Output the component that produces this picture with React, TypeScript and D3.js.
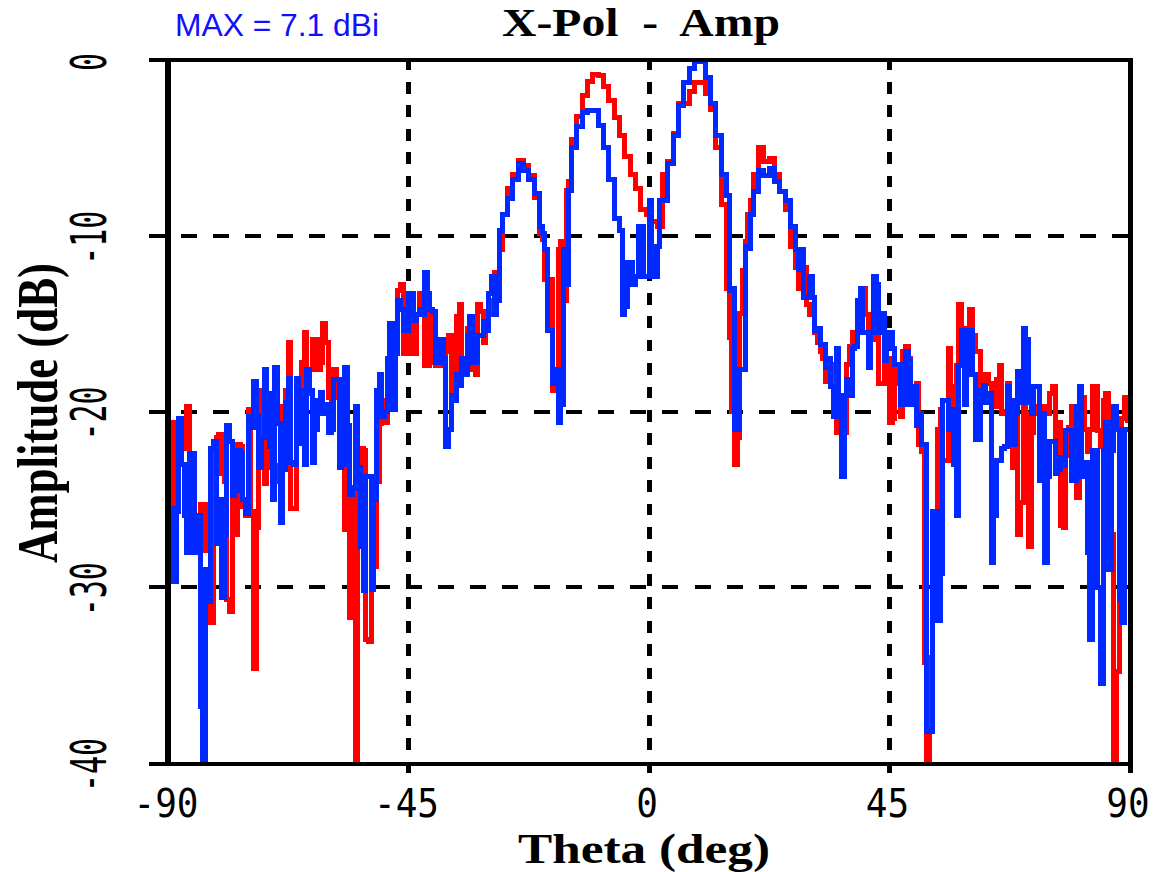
import React, { useEffect, useRef } from "react";
import * as d3 from "d3";

// cut sampled every degree, theta -90 .. 90
const THETA = d3.range(-90, 91, 1);

// each degree column is drawn from its upper to its lower reading (dB)
const RED_HI = [
  -20.6, -20.6, -20.6, -20.6, -19.7, -26, -25.3, -25.3, -25.3, -21.5,
  -21.3, -24, -24.7, -21.9, -22, -19.9, -25.7, -18.8, -21.6, -20.8,
  -21.5, -19.7, -18.8, -16.1, -20.4, -17.2, -15.5, -15.9, -15.9, -15,
  -16.1, -17.6, -19.2, -22.6, -24.8, -24.3, -22.1, -22.2, -29.7, -24,
  -19.4, -17.7, -15, -13.1, -12.8, -13.7, -15, -13.3, -14.2, -14.2,
  -17.2, -17, -16.6, -15.7, -14.6, -13.9, -15.3, -17.1, -13.9, -14.3,
  -14.5, -12.1, -10.8, -8.8, -7.3, -6.5, -5.7, -6.0, -6.6, -7.8,
  -9.9, -12.5, -12.5, -10.8, -10.3, -6.9, -4.5, -3.2, -2, -1.2,
  -0.85, -0.9, -1.5, -2.3, -3.3, -4.3, -5.5, -6.5, -7.3, -8.5,
  -8.8, -9.2, -9.5, -6.5, -5.8, -4.2, -2.5, -2.5, -1.8, -1.3,
  -1.3, -1.9, -2.8, -5, -8.2, -13, -20, -14.4, -10.3, -8,
  -6.5, -5, -5.8, -5.6, -6.5, -7.5, -8.5, -10.6, -11.8, -11.8,
  -13.9, -14.5, -16.1, -17, -17.3, -20.1, -19.7, -17.3, -15.5, -14,
  -13, -14.5, -13.9, -15.5, -15.5, -17, -17.3, -18.4, -16.3, -17,
  -18.4, -21.9, -34.3, -26.4, -21, -19.9, -16.4, -18.6, -13.9, -15.3,
  -14.2, -15.7, -16.6, -17.9, -18.4, -18.2, -17.4, -18.4, -21.9, -20.4,
  -19.2, -20.1, -20.1, -19.7, -19.7, -19, -18.6, -20.6, -22.5, -19.7,
  -23.3, -19.2, -21, -18.6, -18.6, -19.4, -19, -27, -29, -19.2,
  -20.5,
];

const RED_LO = [
  -25.5, -25.5, -22.1, -22.1, -22.5, -27.9, -25.9, -27.9, -32, -22.1,
  -23.5, -30.7, -31.4, -27, -25.4, -25.9, -34.6, -26.6, -24.1, -23.2,
  -24, -23.1, -20.4, -25.5, -25.5, -20.3, -19, -17.6, -17.6, -17.2,
  -19.2, -20.3, -22.6, -26.7, -31.7, -40, -23.7, -33, -33.1, -28.8,
  -20.7, -20.6, -17.7, -15.4, -16.7, -16.7, -16.7, -14.5, -17.4, -17.4,
  -17.4, -17.4, -17.2, -18.8, -18.4, -17.1, -17.1, -17.6, -17.9, -16.1,
  -14.5, -13.7, -12.8, -8.8, -7.3, -6.5, -5.7, -6.0, -6.6, -7.8,
  -10.2, -13, -18.8, -17.6, -13.7, -7.4, -4.5, -3.2, -2, -1.2,
  -0.85, -0.9, -1.5, -2.3, -3.3, -4.3, -5.5, -6.5, -7.3, -8.5,
  -8.8, -9.2, -9.5, -6.5, -5.8, -4.2, -2.5, -2.5, -1.8, -1.3,
  -1.3, -1.9, -2.8, -5, -8.2, -15.8, -23, -21.5, -12, -8.8,
  -6.5, -5, -5.8, -5.6, -6.5, -7.5, -8.5, -10.6, -13, -12.3,
  -14.5, -15.5, -16.6, -18.3, -18, -21.2, -21.2, -21.2, -16.3, -15.5,
  -14, -15.5, -15.9, -18.4, -18.4, -20.6, -20.4, -20.3, -16.6, -19,
  -18.6, -22.3, -40, -34, -26.4, -22.8, -22.8, -19.9, -17.4, -16.9,
  -15.4, -16.6, -18.8, -19.3, -19.6, -19.7, -20.1, -20, -23.2, -27,
  -25.2, -27.7, -21.2, -20.7, -21.1, -20.1, -21.7, -26.5, -26.6, -20.9,
  -24.9, -23, -22.3, -21, -21.1, -22, -21.5, -40, -34.8, -20.4,
  -22,
];

const BLUE_HI = [
  -25.5, -25.5, -20.4, -23, -22.4, -22.4, -25.9, -29, -22.1, -21.7,
  -25, -20.8, -21.7, -22.2, -22.4, -20.3, -18.3, -20.2, -17.6, -19,
  -17.5, -20.7, -19.5, -18.1, -18.1, -18.8, -17.6, -18.8, -19.4, -18.9,
  -19.6, -18.2, -18.2, -17.5, -20.8, -19.7, -23.2, -23.7, -23.7, -18.8,
  -17.9, -17, -15, -13.7, -14.2, -13.3, -13.3, -14.2, -12.1, -13.3,
  -14.3, -15.9, -17, -19.1, -17.9, -17, -15.7, -14.6, -15.7, -14.9,
  -13.3, -12.3, -9.7, -8.8, -7.9, -6.8, -5.9, -6.3, -6.8, -7.6,
  -9.5, -10.8, -15.4, -17.6, -10.8, -7.4, -5, -3.8, -3, -2.9,
  -2.9, -3.7, -5, -6.8, -9, -9.7, -11.5, -11.5, -9.5, -9.5,
  -8, -10.6, -8, -8, -5.9, -4.3, -2.6, -1.3, -0.5, -0.1,
  -0.1, -1, -2.5, -4.3, -6.5, -7.7, -13, -17.6, -10.6, -8.8,
  -7.5, -6.3, -6.6, -6.2, -6.9, -7.5, -8, -9.5, -10.8, -10.8,
  -12.3, -13.5, -15.3, -16.2, -17, -16.4, -19.1, -18.2, -16.4, -13.7,
  -13, -15.5, -12.3, -12.8, -14.4, -15.5, -16.4, -17.3, -16.6, -17.1,
  -18.6, -20.1, -21.9, -25.7, -25.7, -19.4, -19.4, -19.9, -17.4, -15.4,
  -15.4, -17.9, -18.8, -18.5, -19, -22.8, -22.1, -18.6, -19.4, -17.7,
  -15.3, -15.9, -18.6, -18.6, -20.1, -21.7, -21.7, -22.6, -21.1, -21.1,
  -19.7, -18.6, -22.9, -22.2, -22.2, -22.2, -20.6, -19.7, -21, -21,
  -21,
];

const BLUE_LO = [
  -29.7, -29.7, -25.7, -25.9, -28, -28, -36.8, -40, -30.8, -27.5,
  -30.6, -27, -24.8, -24.5, -25, -25.8, -20.9, -23.2, -21.5, -22,
  -25, -26.3, -23.3, -22.9, -23, -21.8, -23, -22.9, -21, -20.1,
  -21.2, -21, -23.2, -23, -24.7, -24.4, -27.7, -30.2, -30.1, -25,
  -20.3, -20, -19.9, -16.7, -15.4, -15.4, -14.8, -14.5, -14.5, -14.2,
  -17.2, -17.2, -22, -21, -19.4, -18.5, -17.9, -17.2, -17.2, -15.7,
  -15.4, -14.5, -13.7, -8.8, -7.9, -6.8, -5.9, -6.3, -6.8, -7.6,
  -9.9, -15.4, -18.4, -20.6, -19.6, -12.8, -5, -3.8, -3, -2.9,
  -2.9, -3.7, -5, -6.8, -9, -14.5, -14, -12.8, -12.3, -12.3,
  -12.3, -12.3, -10.6, -8, -5.9, -4.3, -2.6, -1.3, -0.5, -0.1,
  -0.1, -1, -2.5, -4.3, -6.5, -13.1, -21, -21, -17.6, -10.7,
  -7.5, -6.3, -6.6, -6.2, -6.9, -7.5, -8, -9.5, -11.9, -13.5,
  -13.5, -15.4, -16.2, -17.5, -18.6, -20.3, -23.7, -19.1, -19.1, -16.3,
  -15.5, -17.5, -15.5, -15.5, -17.1, -16.3, -17.3, -19.6, -19.6, -19.6,
  -20.8, -21.9, -38.2, -38.2, -31.9, -29.2, -21, -23, -25.9, -19.6,
  -17.9, -21.6, -21.6, -19.5, -28.6, -25.9, -22.8, -22, -21.9, -20.1,
  -19.5, -19.5, -20.1, -23.9, -28.6, -23.7, -23.5, -23.3, -23.1, -23.9,
  -23.9, -23.7, -28, -33, -30, -35.5, -29, -22.2, -30.7, -32,
  -22.5,
];

const X_TICKS = [-90, -45, 0, 45, 90];
const Y_TICKS = [0, -10, -20, -30, -40];
const X_GRID = [-45, 0, 45];
const Y_GRID = [-10, -20, -30];

// two readings per degree, placed a quarter degree either side of it,
// the one nearer to the previous column first
function columnPoints(hi: number[], lo: number[]) {
  const pts: [number, number][] = [];
  let prev = (hi[0] + lo[0]) / 2;
  THETA.forEach((t, i) => {
    const a = hi[i];
    const b = lo[i];
    const [first, second] = Math.abs(a - prev) <= Math.abs(b - prev) ? [a, b] : [b, a];
    pts.push([t - 0.25, first], [t + 0.25, second]);
    prev = second;
  });
  return pts;
}

const App = () => {
  const svgRef = useRef<SVGSVGElement>(null);

  useEffect(() => {
    const width = 1157;
    const height = 872;
    const frame = { left: 168, right: 1130, top: 60, bottom: 763 };

    const svg = d3.select(svgRef.current);
    svg.selectAll("*").remove();
    svg.attr("viewBox", [0, 0, width, height]);

    const x = d3.scaleLinear().domain([-90, 90]).range([frame.left, frame.right]);
    const y = d3.scaleLinear().domain([-40, 0]).range([frame.bottom, frame.top]);

    svg
      .append("clipPath")
      .attr("id", "plot-clip")
      .append("rect")
      .attr("x", frame.left)
      .attr("y", 0)
      .attr("width", frame.right - frame.left)
      .attr("height", height);

    // dashed grid, vertical (the last dash doubles as the tick below the axis)
    svg
      .append("g")
      .selectAll("line")
      .data(X_GRID)
      .join("line")
      .attr("x1", (d) => x(d))
      .attr("x2", (d) => x(d))
      .attr("y1", frame.top - 1.4)
      .attr("y2", frame.bottom + 10)
      .attr("stroke", "#000")
      .attr("stroke-width", 5)
      .attr("stroke-dasharray", "11.7 11.73")
      .attr("shape-rendering", "crispEdges");

    // dashed grid, horizontal (the first dash is the tick left of the axis)
    svg
      .append("g")
      .selectAll("line")
      .data(Y_GRID)
      .join("line")
      .attr("x1", frame.left - 19)
      .attr("x2", frame.right)
      .attr("y1", (d) => y(d))
      .attr("y2", (d) => y(d))
      .attr("stroke", "#000")
      .attr("stroke-width", 4)
      .attr("stroke-dasharray", "16 16.09")
      .attr("shape-rendering", "crispEdges");

    // traces
    const line = d3
      .line<[number, number]>()
      .x((d) => x(d[0]))
      .y((d) => y(d[1]))
      .curve(d3.curveStep);

    const traces = [
      { pts: columnPoints(RED_HI, RED_LO), color: "#ff0000" },
      { pts: columnPoints(BLUE_HI, BLUE_LO), color: "#0028ff" },
    ];
    svg
      .append("g")
      .attr("clip-path", "url(#plot-clip)")
      .selectAll("path")
      .data(traces)
      .join("path")
      .attr("d", (d) => line(d.pts))
      .attr("fill", "none")
      .attr("stroke", (d) => d.color)
      .attr("stroke-width", 5)
      .attr("stroke-linejoin", "miter")
      .attr("stroke-miterlimit", 10)
      .attr("shape-rendering", "crispEdges");

    // frame
    const fr = svg.append("g").attr("stroke", "#000").attr("shape-rendering", "crispEdges");
    fr.append("line") // top, with the 0 tick
      .attr("x1", frame.left - 19)
      .attr("x2", frame.right + 3)
      .attr("y1", frame.top)
      .attr("y2", frame.top)
      .attr("stroke-width", 4);
    fr.append("line") // bottom, with the -40 tick
      .attr("x1", frame.left - 19)
      .attr("x2", frame.right + 3)
      .attr("y1", frame.bottom + 0.5)
      .attr("y2", frame.bottom + 0.5)
      .attr("stroke-width", 4);
    fr.append("line") // left
      .attr("x1", frame.left)
      .attr("x2", frame.left)
      .attr("y1", frame.top - 2)
      .attr("y2", frame.bottom + 2.5)
      .attr("stroke-width", 5.5);
    fr.append("line") // right, with the 90 tick
      .attr("x1", frame.right + 0.5)
      .attr("x2", frame.right + 0.5)
      .attr("y1", frame.top - 2)
      .attr("y2", frame.bottom + 10)
      .attr("stroke-width", 4.5);

    // x tick labels
    svg
      .append("g")
      .selectAll("text")
      .data(X_TICKS)
      .join("text")
      .attr("transform", (d) => `translate(${x(d) - 2},817) scale(1,1.08)`)
      .attr("text-anchor", "middle")
      .style("font-family", "'DejaVu Sans Mono', monospace")
      .style("font-size", "36px")
      .attr("fill", "#000")
      .text((d) => String(d));

    // y tick labels, rotated and stretched
    svg
      .append("g")
      .selectAll("text")
      .data(Y_TICKS)
      .join("text")
      .attr("transform", (d) => `translate(106,${y(d) + 2}) rotate(-90) scale(1,1.68)`)
      .attr("text-anchor", "middle")
      .style("font-family", "'DejaVu Sans Mono', monospace")
      .style("font-size", "30px")
      .attr("fill", "#000")
      .text((d) => String(d));

    // titles
    svg
      .append("text")
      .attr("x", 502)
      .attr("y", 35.5)
      .attr("textLength", 278)
      .attr("lengthAdjust", "spacingAndGlyphs")
      .style("white-space", "pre")
      .style("font-family", "'Liberation Serif', serif")
      .style("font-weight", "bold")
      .style("font-size", "39px")
      .attr("fill", "#000")
      .text("X-Pol  -  Amp");

    svg
      .append("text")
      .attr("x", 518)
      .attr("y", 863)
      .attr("textLength", 252)
      .attr("lengthAdjust", "spacingAndGlyphs")
      .style("white-space", "pre")
      .style("font-family", "'Liberation Serif', serif")
      .style("font-weight", "bold")
      .style("font-size", "42px")
      .attr("fill", "#000")
      .text("Theta (deg)");

    svg
      .append("text")
      .attr("transform", "translate(57,563) rotate(-90)")
      .attr("textLength", 300)
      .attr("lengthAdjust", "spacingAndGlyphs")
      .style("white-space", "pre")
      .style("font-family", "'Liberation Serif', serif")
      .style("font-weight", "bold")
      .style("font-size", "58px")
      .attr("fill", "#000")
      .text("Amplitude (dB)");

    svg
      .append("text")
      .attr("x", 175)
      .attr("y", 36)
      .attr("textLength", 204)
      .attr("lengthAdjust", "spacingAndGlyphs")
      .style("font-family", "'Liberation Sans', Arial, sans-serif")
      .style("font-size", "32px")
      .attr("fill", "#1010ff")
      .text("MAX = 7.1 dBi");
  }, []);

  return (
    <svg
      ref={svgRef}
      width={1157}
      height={872}
      style={{ position: "absolute", left: 0, top: 0, background: "#fff" }}
    />
  );
};

export default App;
